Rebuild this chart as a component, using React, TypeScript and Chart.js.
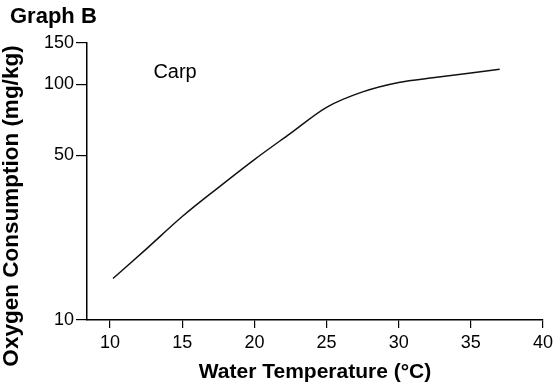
import React, { useEffect, useRef } from "react";
import { Chart, registerables } from "chart.js";

Chart.register(...registerables);

const temperatures = [10.2, 12.5, 15, 17.5, 20, 22.5, 25, 27.5, 30, 32.5, 35, 37];
const oxygenConsumption = [15, 20, 27.5, 36.5, 48, 62, 80, 93, 102, 107, 112, 116];
const xTicks = [10, 15, 20, 25, 30, 35, 40];
const yTicks = [10, 50, 100, 150];
const titleText = "Graph B";
const seriesLabel = "Carp";
const xTitle = "Water Temperature (°C)";
const yTitle = "Oxygen Consumption (mg/kg)";

const FONT = "'Liberation Sans', Arial, Helvetica, sans-serif";

export default function App() {
  const ref = useRef<HTMLCanvasElement>(null);
  useEffect(() => {
    document.body.style.margin = "0";
    const ctx = ref.current!;
    const labelPlugin = {
      id: "labels",
      afterDraw(chart: any) {
        const c = chart.ctx;
        const area = chart.chartArea;
        c.save();
        c.fillStyle = "#000";
        c.textBaseline = "middle";
        c.textAlign = "left";
        c.font = `bold 22px ${FONT}`;
        c.fillText(titleText, 10, 17);
        c.font = `20px ${FONT}`;
        c.fillText(seriesLabel, chart.scales.x.getPixelForValue(13), chart.scales.y.getPixelForValue(112));
        c.textAlign = "center";
        c.font = `bold 21px ${FONT}`;
        c.fillText(xTitle, (area.left + area.right) / 2, 372);
        c.translate(12, 206);
        c.rotate(-Math.PI / 2);
        c.font = `bold 22.5px ${FONT}`;
        c.fillText(yTitle, 0, 0);
        c.restore();
      },
    };
    const chart = new Chart(ctx, {
      type: "line",
      data: {
        datasets: [
          {
            label: seriesLabel,
            data: temperatures.map((t, i) => ({ x: t, y: oxygenConsumption[i] })),
            borderColor: "#111",
            borderWidth: 1.5,
            pointRadius: 0,
            cubicInterpolationMode: "monotone",
            fill: false,
          },
        ],
      },
      options: {
        animation: false,
        responsive: false,
        layout: { padding: { top: 43, right: 13, left: 0, bottom: 0 } },
        plugins: { legend: { display: false }, tooltip: { enabled: false } },
        scales: {
          x: {
            type: "linear",
            min: 8.4,
            max: 40,
            afterBuildTicks: (s: any) => {
              s.ticks = xTicks.map((v) => ({ value: v }));
            },
            afterFit: (s: any) => {
              s.height = 63;
            },
            grid: { display: true, drawOnChartArea: false, drawTicks: true, tickLength: 8, color: "#000", lineWidth: 1.2 },
            border: { display: true, color: "#000", width: 1.5 },
            ticks: { color: "#000", font: { family: FONT, size: 18 }, padding: 4, maxRotation: 0 },
          },
          y: {
            type: "logarithmic",
            min: 10,
            max: 150,
            afterBuildTicks: (s: any) => {
              s.ticks = yTicks.map((v) => ({ value: v }));
            },
            afterFit: (s: any) => {
              s.width = 87;
            },
            grid: { display: true, drawOnChartArea: false, drawTicks: true, tickLength: 11, color: "#000", lineWidth: 1.2 },
            border: { display: true, color: "#000", width: 1.5 },
            ticks: { color: "#000", font: { family: FONT, size: 18 }, padding: 2, callback: (v: any) => String(v) },
          },
        },
      },
      plugins: [labelPlugin],
    });
    return () => chart.destroy();
  }, []);
  return <canvas ref={ref} width={557} height={383} style={{ display: "block" }} />;
}
